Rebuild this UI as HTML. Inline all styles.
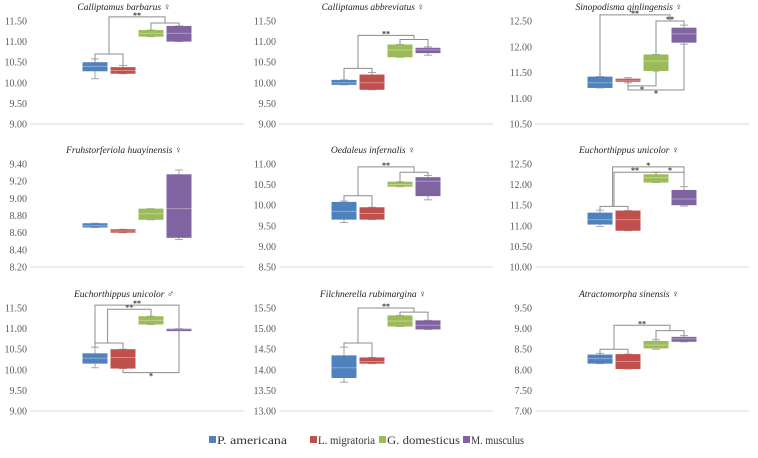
<!DOCTYPE html>
<html><head><meta charset="utf-8">
<style>
html,body{margin:0;padding:0;background:#fff;}
svg{display:block;}
svg text{font-family:"Liberation Serif","DejaVu Serif","Times New Roman",serif;}
</style></head>
<body>
<svg id="chart" width="758" height="458" viewBox="0 0 758 458" xmlns="http://www.w3.org/2000/svg">
<g id="legend">
  <g><rect x="209" y="436" width="7" height="7" fill="#4f81bd"/><text x="217" y="444" font-size="12" fill="#333" textLength="70" lengthAdjust="spacingAndGlyphs">P. americana</text></g>
  <g><rect x="310" y="436" width="7" height="7" fill="#c0504d"/><text x="318" y="444" font-size="12" fill="#333" textLength="57" lengthAdjust="spacingAndGlyphs">L. migratoria</text></g>
  <g><rect x="379" y="436" width="7" height="7" fill="#9bbb59"/><text x="387" y="444" font-size="12" fill="#333" textLength="73" lengthAdjust="spacingAndGlyphs">G. domesticus</text></g>
  <g><rect x="463" y="436" width="7" height="7" fill="#8064a2"/><text x="471" y="444" font-size="12" fill="#333" textLength="53" lengthAdjust="spacingAndGlyphs">M. musculus</text></g>
</g>
</svg>
<script>
const titles = ["Calliptamus barbarus ♀","Calliptamus abbreviatus ♀","Sinopodisma qinlingensis ♀","Fruhstorferiola huayinensis ♀","Oedaleus infernalis ♀","Euchorthippus unicolor ♀","Euchorthippus unicolor ♂","Filchnerella rubimargina ♀","Atractomorpha sinensis ♀"];
const tickLabels = [
 ["9.00","9.50","10.00","10.50","11.00","11.50"],
 ["9.00","9.50","10.00","10.50","11.00","11.50"],
 ["10.50","11.00","11.50","12.00","12.50"],
 ["8.20","8.40","8.60","8.80","9.00","9.20","9.40"],
 ["8.50","9.00","9.50","10.00","10.50","11.00"],
 ["10.00","10.50","11.00","11.50","12.00","12.50"],
 ["9.00","9.50","10.00","10.50","11.00","11.50"],
 ["13.00","13.50","14.00","14.50","15.00","15.50"],
 ["7.00","7.50","8.00","8.50","9.00","9.50"]];
const species = ["P. americana","L. migratoria","G. domesticus","M. musculus"];
const colors = ["#4f81bd","#c0504d","#9bbb59","#8064a2"];
// [min,q1,median,q3,max] per species
const box1 = [[10.1,10.28,10.4,10.5,10.58],[10.22,10.22,10.3,10.38,10.42],[11.12,11.12,11.2,11.28,11.28],[11.0,11.0,11.2,11.38,11.38]];
const box2 = [[9.95,9.95,10.0,10.07,10.07],[9.83,9.83,10.0,10.2,10.25],[10.62,10.62,10.8,10.93,10.93],[10.67,10.72,10.8,10.85,10.87]];
const box3 = [[11.2,11.2,11.3,11.42,11.42],[11.3,11.32,11.35,11.38,11.4],[11.53,11.53,11.72,11.85,11.85],[12.05,12.08,12.25,12.37,12.42]];
const box4 = [[8.66,8.66,8.68,8.71,8.71],[8.6,8.6,8.62,8.64,8.64],[8.75,8.75,8.82,8.88,8.88],[8.52,8.54,8.88,9.28,9.33]];
const box5 = [[9.58,9.65,9.85,10.08,10.1],[9.65,9.65,9.8,9.95,9.95],[10.45,10.45,10.5,10.57,10.57],[10.13,10.22,10.58,10.68,10.72]];
const box6 = [[10.98,11.03,11.15,11.32,11.38],[10.88,10.88,11.15,11.37,11.37],[12.05,12.05,12.17,12.25,12.3],[11.48,11.5,11.65,11.87,11.95]];
const box7 = [[10.05,10.15,10.28,10.4,10.55],[10.03,10.03,10.3,10.5,10.5],[11.1,11.1,11.2,11.3,11.3],[10.97,10.97,10.99,11.0,11.0]];
const box8 = [[13.7,13.8,14.05,14.35,14.55],[14.15,14.15,14.2,14.3,14.3],[15.05,15.05,15.18,15.32,15.32],[14.98,14.98,15.08,15.2,15.2]];
const box9 = [[8.15,8.15,8.27,8.37,8.4],[8.02,8.02,8.2,8.38,8.38],[8.5,8.52,8.6,8.7,8.73],[8.68,8.68,8.75,8.8,8.83]];
const boxes = [box1,box2,box3,box4,box5,box6,box7,box8,box9];
// brackets: [posA, posB, level, legEndA, legEndB, label]
const br1 = [[0,1,10.7,10.5,10.4,""],[2,3,11.45,11.28,11.38,""],[0.5,2.5,11.6,10.7,11.45,"**"]];
const br2 = [[0,1,10.35,10.07,10.25,""],[2,3,11.05,10.93,10.87,""],[0.5,2.5,11.15,10.35,11.05,"**"]];
const br3 = [[2,3,12.5,11.85,12.42,"**"],[0,2.5,12.62,11.42,12.5,"**"],[1,2,11.24,11.32,11.53,"*"],[1,3,11.16,11.3,12.05,"*"]];
const br4 = [];
const br5 = [[0,1,10.23,10.1,9.95,""],[2,3,10.8,10.57,10.72,""],[0.5,2.5,10.93,10.23,10.8,"**"]];
const br6 = [[0,1,11.47,11.38,11.37,""],[0.5,2,12.3,11.47,12.25,"**"],[2,3,12.3,12.3,11.95,"*"],[0.45,3,12.43,11.47,11.95,"*"]];
const br7 = [[0,1,10.65,10.55,10.5,""],[0.45,2,11.47,10.65,11.3,"**"],[0,3,11.57,10.55,11.0,"**"],[1,3,9.93,10.03,10.97,"*"]];
const br8 = [[0,1,14.65,14.55,14.3,""],[2,3,15.4,15.32,15.2,""],[0.5,2.5,15.5,14.65,15.4,"**"]];
const br9 = [[0,1,8.5,8.4,8.38,""],[2,3,8.95,8.73,8.83,""],[0.5,2.5,9.08,8.5,8.95,"**"]];
const brackets = [br1,br2,br3,br4,br5,br6,br7,br8,br9];

const NS = "http://www.w3.org/2000/svg";
const svg = document.getElementById("chart");
const colOff = [0,249,505];
const rowOff = [0,143,287];
function mk(tag, attrs, parent){const e=document.createElementNS(NS,tag);for(const k in attrs)e.setAttribute(k,attrs[k]);parent.appendChild(e);return e;}

for(let p=0;p<9;p++){
  const cx0 = colOff[p%3], ry0 = rowOff[Math.floor(p/3)];
  const g = mk("g",{},svg);
  
  
  const ticks = tickLabels[p].map(Number);
  const vmin = ticks[0], vmax = ticks[ticks.length-1];
  const yTop = ry0+21, yBot = ry0+124;
  const y = v => yBot - (v-vmin)/(vmax-vmin)*(yBot-yTop);
  const x = i => cx0 + 95 + 28*i;
  const t = mk("text",{x:cx0+124,y:ry0+10,"font-size":9.5,"font-style":"italic","text-anchor":"middle",fill:"#222"},g);
  t.textContent = titles[p];
  
  
  tickLabels[p].forEach((lab,i)=>{
    const tt = mk("text",{x:cx0+27,y:y(ticks[i])+3.5,"font-size":10,"text-anchor":"end",fill:"#595959"},g);
    tt.textContent = lab;
    
    
  });
  const ax = mk("line",{x1:cx0+30,x2:cx0+244,y1:yBot,y2:yBot,stroke:"#d9d9d9","stroke-width":1},g);
  
  
  boxes[p].forEach((b,i)=>{
    const bg = mk("g",{},g);
    
    
    const cx = x(i);
    mk("line",{x1:cx,x2:cx,y1:y(b[4]),y2:y(b[0]),stroke:"#a6a6a6","stroke-width":1},bg);
    mk("line",{x1:cx-4,x2:cx+4,y1:y(b[4]),y2:y(b[4]),stroke:"#a6a6a6","stroke-width":1},bg);
    mk("line",{x1:cx-4,x2:cx+4,y1:y(b[0]),y2:y(b[0]),stroke:"#a6a6a6","stroke-width":1},bg);
    const h = Math.max(2.5, y(b[1])-y(b[3]));
    mk("rect",{x:cx-12.5,y:y(b[3]),width:25,height:h,fill:colors[i]},bg);
    mk("line",{x1:cx-12.5,x2:cx+12.5,y1:y(b[2]),y2:y(b[2]),stroke:"rgba(255,255,255,0.35)","stroke-width":1},bg);
  });
  brackets[p].forEach(br=>{
    const bg = mk("g",{},g);
    
    
    const xa=x(br[0]), xb=x(br[1]), yl=y(br[2]);
    mk("polyline",{points:`${xa},${y(br[3])} ${xa},${yl} ${xb},${yl} ${xb},${y(br[4])}`,fill:"none",stroke:"#8c8c8c","stroke-width":1},bg);
    if(br[5]){
      const down = br[2] < br[3];
      const lt = mk("text",{x:(xa+xb)/2,y:down?yl+6:yl+1,"font-size":8,"font-weight":"bold","text-anchor":"middle",fill:"#333"},bg);
      lt.textContent = br[5];
    }
  });
}
</script>
</body></html>
